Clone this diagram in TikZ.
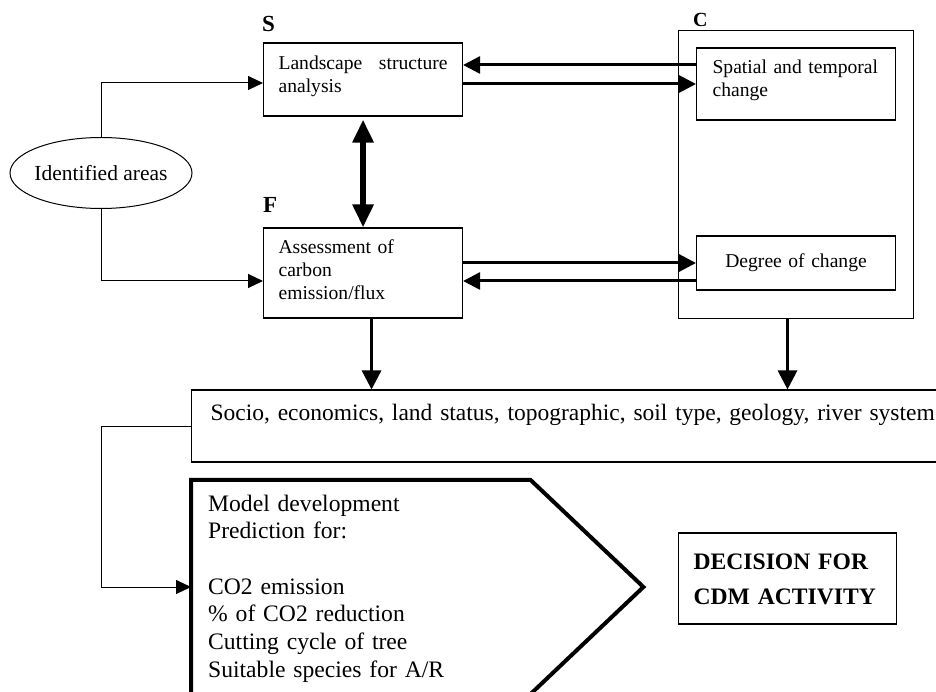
\documentclass[tikz,border=0pt]{standalone}
\usepackage{fontspec}
\setmainfont{Liberation Serif}
\usetikzlibrary{arrows.meta,shapes.geometric}
\begin{document}
\begin{tikzpicture}[x=1pt,y=-1pt,
  boxtext/.style={font=\fontsize{19.6}{23}\selectfont},
  bigtext/.style={font=\fontsize{23.6}{27.7}\selectfont},
  box/.style={draw, line width=1.1pt, anchor=base west, inner ysep=0pt, align=left},
  thinarrow/.style={line width=1pt, -{Triangle[length=15pt,width=14pt]}},
  boldarrow/.style={line width=3pt, -{Triangle[length=17pt,width=17pt]}},
  downarrow/.style={line width=3pt, -{Triangle[length=19pt,width=19pt]}},
  linkarrow/.style={line width=6pt, {Triangle[length=23pt,width=20pt]}-{Triangle[length=23pt,width=20pt]}},
  tag/.style={font=\fontsize{23}{26}\selectfont\bfseries, anchor=base west, inner sep=0pt}]

\path[use as bounding box, clip] (0,0) rectangle (936,692);

% group labels
\node[tag] (sl) at (262,32) {S};
\node[tag] (fl) at (263,213) {F};
\node[tag, font=\fontsize{20}{24}\selectfont\bfseries] (cl) at (693,27) {C};

% source
\node[ellipse, draw, line width=1pt, minimum width=182pt, minimum height=71pt, inner sep=0pt,
      label={[font=\fontsize{21.5}{24}\selectfont]center:Identified areas}] (ia) at (101,173) {};

% S and F boxes
\node[box, boxtext, inner xsep=15pt, text width=169pt, text height=27pt, text depth=46pt]
  (ls) at (263,70) {Landscape\hfill structure\\analysis};
\node[box, boxtext, inner xsep=15pt, text width=169pt, text height=26pt, text depth=64pt]
  (as) at (263,254) {Assessment of\\carbon\\emission/flux};

% C group
\node[draw, line width=1pt, anchor=north west, minimum width=235pt, minimum height=288pt, inner sep=0pt]
  (cb) at (678,30) {};
\node[box, boxtext, inner xsep=16pt, text width=167pt, text height=26pt, text depth=46pt]
  (sp) at (696,74) {\mbox{Spatial and temporal}\\change};
\node[box, boxtext, inner xsep=16pt, text width=167pt, text height=32pt, text depth=22pt, align=center]
  (dg) at (696,268) {Degree of change};

% data layers
\node[box, inner xsep=19pt, text width=760pt, text height=30pt, text depth=42pt,
      font=\fontsize{23.5}{28}\selectfont]
  (so) at (191,420) {Socio, economics, land status, topographic, soil type, geology, river system};

% model (pentagon outline drawn around the text block)
\node[bigtext, anchor=base west, inner xsep=17pt, inner ysep=0pt, text width=305pt, text height=31pt,
      text depth=183pt, align=left]
  (model) at (191,511) {Model development\\Prediction for:\\[27.7pt]CO2 emission\\\% of CO2 reduction\\Cutting cycle of tree\\Suitable species for A/R};
\draw[line width=4pt, line join=miter]
  (model.north west) -- (model.north east) -- ([xshift=113pt]model.east)
  -- (model.south east) -- (model.south west) -- cycle;

% decision
\node[box, line width=1.3pt, inner xsep=15pt, text width=188pt, text height=36pt, text depth=55pt,
      font=\fontsize{23.6}{35}\selectfont\bfseries]
  (dec) at (678,569) {DECISION FOR\\CDM ACTIVITY};

% connectors
\draw[thinarrow] (ia.north) |- ([yshift=-3.5pt]ls.west);
\draw[thinarrow] (ia.south) |- ([yshift=-8pt]as.west);
\draw[thinarrow] (so.west) -- (so.west -| ia.south) |- (model.west);

\coordinate (spA) at ([yshift=19pt]sp.west);
\draw[boldarrow] (spA) -- (spA -| ls.east);
\draw[boldarrow] (ls.east |- sp.west) -- (sp.west);

\coordinate (dgB) at ([yshift=-18pt]dg.west);
\draw[boldarrow] (as.east |- dg.west) -- (dg.west);
\draw[boldarrow] (dgB) -- (dgB -| as.east);

\draw[linkarrow] ([yshift=-3pt]ls.south) -- (as.north);

\coordinate (asD) at ([xshift=8.5pt]as.south);
\draw[downarrow] (asD) -- (asD |- so.north);
\coordinate (cbD) at ([xshift=-8.5pt]cb.south);
\draw[downarrow] (cbD) -- (cbD |- so.north);
\end{tikzpicture}
\end{document}
